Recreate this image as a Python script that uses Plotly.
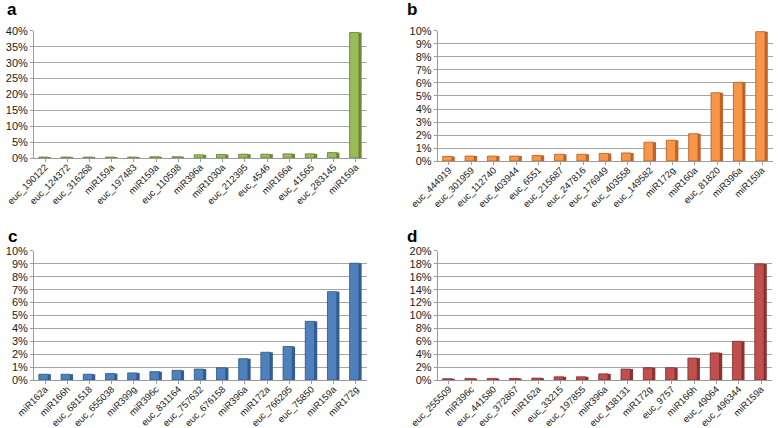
import plotly.graph_objects as go

a_labels = ["euc_190122", "euc_124372", "euc_316268", "miR159a", "euc_197483", "miR159a", "euc_110598",
            "miR396a", "miR1030a", "euc_212395", "euc_4546", "miR166a", "euc_41565", "euc_283145", "miR159a"]
a_values = [0.3, 0.3, 0.3, 0.3, 0.3, 0.4, 0.4, 1.0, 1.1, 1.2, 1.2, 1.3, 1.3, 1.7, 39.5]

b_labels = ["euc_444919", "euc_301959", "euc_112740", "euc_403944", "euc_6551", "euc_215687", "euc_247816",
            "euc_176949", "euc_403558", "euc_149582", "miR172g", "miR160a", "euc_81820", "miR396a", "miR159a"]
b_values = [0.35, 0.38, 0.38, 0.38, 0.42, 0.52, 0.52, 0.58, 0.62, 1.45, 1.6, 2.1, 5.25, 6.05, 9.95]

c_labels = ["miR162a", "miR166h", "euc_681518", "euc_655038", "miR399g", "miR396c", "euc_831164",
            "euc_757632", "euc_676158", "miR396a", "miR172a", "euc_766295", "euc_75850", "miR159a", "miR172g"]
c_values = [0.45, 0.45, 0.45, 0.5, 0.55, 0.65, 0.75, 0.85, 0.95, 1.65, 2.15, 2.6, 4.55, 6.85, 9.05]

d_labels = ["euc_255509", "miR396c", "euc_441580", "euc_372867", "miR162a", "euc_33215", "euc_197855",
            "miR396a", "euc_438131", "miR172g", "euc_9757", "miR166h", "euc_49064", "euc_496344", "miR159a"]
d_values = [0.2, 0.25, 0.25, 0.25, 0.3, 0.5, 0.5, 0.95, 1.7, 1.9, 1.9, 3.4, 4.2, 6.0, 18.0]

panels = [
    dict(name="a", labels=a_labels, values=a_values, ymax=40, dtick=5,
         face="#9bbb59", side="#6f8a38", line="#5e7a2c",
         xdom=[0.0437, 0.4717], ydom=[0.6308, 0.9276], title_xy=(0.0155, 0.978)),
    dict(name="b", labels=b_labels, values=b_values, ymax=10, dtick=1,
         face="#f79646", side="#c0652a", line="#b35a1f",
         xdom=[0.5627, 0.9938], ydom=[0.6238, 0.9276], title_xy=(0.529, 0.978)),
    dict(name="c", labels=c_labels, values=c_values, ymax=10, dtick=1,
         face="#4f81bd", side="#335f94", line="#2c5284",
         xdom=[0.0437, 0.4717], ydom=[0.1121, 0.4136], title_xy=(0.0155, 0.448)),
    dict(name="d", labels=d_labels, values=d_values, ymax=20, dtick=2,
         face="#c0504d", side="#8e3331", line="#7e2a28",
         xdom=[0.5627, 0.9925], ydom=[0.1121, 0.4136], title_xy=(0.529, 0.448)),
]

fig = go.Figure()
layout = dict(width=778, height=428, margin=dict(l=0, r=0, t=0, b=0, autoexpand=False),
              paper_bgcolor="white", plot_bgcolor="white", showlegend=False,
              barmode="overlay",
              font=dict(family="Liberation Sans, Arial, sans-serif", color="#222222"))
annotations = []
for i, p in enumerate(panels):
    n = i + 1
    xs = list(range(len(p["values"])))
    sfx = "" if n == 1 else str(n)
    # side face (depth)
    fig.add_trace(go.Bar(x=xs, y=p["values"], xaxis="x" + sfx, yaxis="y" + sfx,
                         width=0.14, offset=0.12,
                         marker=dict(color=p["side"], line=dict(width=0)), hoverinfo="skip"))
    # front face
    fig.add_trace(go.Bar(x=xs, y=p["values"], xaxis="x" + sfx, yaxis="y" + sfx,
                         width=0.42, offset=-0.28,
                         marker=dict(color=p["face"], line=dict(color=p["line"], width=0.8))))
    layout["xaxis" + sfx] = dict(domain=p["xdom"], anchor="y" + sfx, range=[-0.5, len(xs) - 0.5],
                                 tickmode="array", tickvals=xs, ticktext=p["labels"],
                                 tickangle=-45, tickfont=dict(size=9.5, color="#1a1a1a"),
                                 ticklabelstandoff=-4,
                                 showline=True, linecolor="#9a9a9a", linewidth=1,
                                 ticks="outside", ticklen=3, tickcolor="#9a9a9a",
                                 showgrid=False, zeroline=False, fixedrange=True, automargin=False)
    layout["yaxis" + sfx] = dict(domain=p["ydom"], anchor="x" + sfx, range=[0, p["ymax"]],
                                 dtick=p["dtick"], ticksuffix="%", tickfont=dict(size=11, color="#1a1a1a"),
                                 showline=True, linecolor="#9a9a9a", linewidth=1,
                                 showgrid=True, gridcolor="#a6a6a6", gridwidth=1,
                                 zeroline=False, ticks="outside", ticklen=3, tickcolor="#9a9a9a",
                                 fixedrange=True, automargin=False)
    annotations.append(dict(text="<b>" + p["name"] + "</b>", x=p["title_xy"][0], y=p["title_xy"][1],
                            xref="paper", yref="paper", showarrow=False, xanchor="center", yanchor="middle",
                            font=dict(size=17, color="black", family="Liberation Sans, Arial, sans-serif")))
layout["annotations"] = annotations
fig.update_layout(**layout)
fig.write_html("out.html", config={"displayModeBar": False},
               post_script="document.body.style.margin='0';document.body.style.overflow='hidden';")
